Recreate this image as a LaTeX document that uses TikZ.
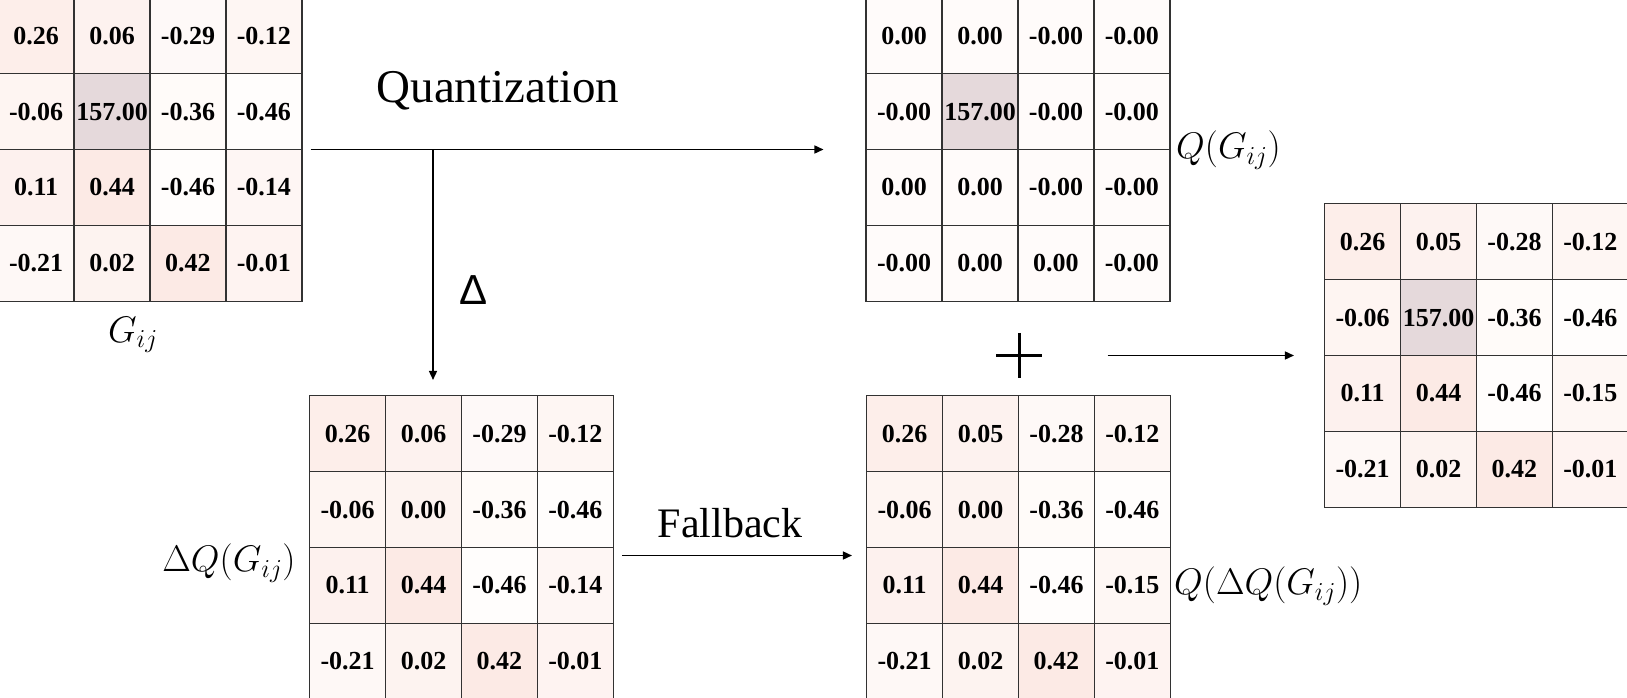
\RequirePackage{fix-cm}
\documentclass[tikz,border=0pt]{standalone}
\usepackage[no-math]{fontspec}
\setmainfont{Liberation Serif}
\newfontfamily\sansf{Liberation Sans}
\usetikzlibrary{matrix,arrows.meta}
\definecolor{hi}{RGB}{252,234,229}
\definecolor{lo}{RGB}{255,253,252}
\definecolor{big}{RGB}{229,217,219}
\definecolor{gridc}{RGB}{50,50,50}
\begin{document}
\begin{tikzpicture}[x=1pt,y=-1pt,
  cell/.style={draw=gridc,line width=1.5pt,minimum width=75.9pt,minimum height=75.9pt,
    inner sep=0pt,outer sep=0pt,font=\fontsize{26}{26}\selectfont\bfseries,fill=lo},
  tint/.style={fill=hi!#1!lo},
  bg/.style={fill=big},
  grid/.style={matrix of nodes,nodes={cell},column sep=-1.5pt,row sep=-1.5pt,
    inner sep=0pt,outer sep=0pt},
  arr/.style={draw=black,line width=1.5pt,-{Triangle[length=9pt,width=8pt]}},
  lab/.style={inner sep=0pt,font=\fontsize{37}{37}\selectfont}]
\useasboundingbox (0,0) rectangle (1627,698);

\matrix (G) [grid] at (150,149.5) {
|[tint=80]| 0.26 & |[tint=58]| 0.06 & |[tint=19]| -0.29 & |[tint=38]| -0.12 \\
|[tint=44]| -0.06 & |[bg]| 157.00 & |[tint=11]| -0.36 & |[tint=0]| -0.46 \\
|[tint=63]| 0.11 & |[tint=100]| 0.44 & |[tint=0]| -0.46 & |[tint=36]| -0.14 \\
|[tint=28]| -0.21 & |[tint=53]| 0.02 & |[tint=98]| 0.42 & |[tint=50]| -0.01 \\
};

\matrix (QG) [grid] at (1018,149.5) {
|[tint=8]| 0.00 & |[tint=8]| 0.00 & |[tint=8]| -0.00 & |[tint=8]| -0.00 \\
|[tint=8]| -0.00 & |[bg]| 157.00 & |[tint=8]| -0.00 & |[tint=8]| -0.00 \\
|[tint=8]| 0.00 & |[tint=8]| 0.00 & |[tint=8]| -0.00 & |[tint=8]| -0.00 \\
|[tint=8]| -0.00 & |[tint=8]| 0.00 & |[tint=8]| 0.00 & |[tint=8]| -0.00 \\
};

\matrix (DQ) [grid] at (461.5,547.5) {
|[tint=80]| 0.26 & |[tint=58]| 0.06 & |[tint=19]| -0.29 & |[tint=38]| -0.12 \\
|[tint=44]| -0.06 & |[tint=51]| 0.00 & |[tint=11]| -0.36 & |[tint=0]| -0.46 \\
|[tint=63]| 0.11 & |[tint=100]| 0.44 & |[tint=0]| -0.46 & |[tint=36]| -0.14 \\
|[tint=28]| -0.21 & |[tint=53]| 0.02 & |[tint=98]| 0.42 & |[tint=50]| -0.01 \\
};

\matrix (QDQ) [grid] at (1018.5,547.5) {
|[tint=80]| 0.26 & |[tint=57]| 0.05 & |[tint=20]| -0.28 & |[tint=38]| -0.12 \\
|[tint=44]| -0.06 & |[tint=51]| 0.00 & |[tint=11]| -0.36 & |[tint=0]| -0.46 \\
|[tint=63]| 0.11 & |[tint=100]| 0.44 & |[tint=0]| -0.46 & |[tint=34]| -0.15 \\
|[tint=28]| -0.21 & |[tint=53]| 0.02 & |[tint=98]| 0.42 & |[tint=50]| -0.01 \\
};

\matrix (R) [grid] at (1476.5,355.5) {
|[tint=80]| 0.26 & |[tint=57]| 0.05 & |[tint=20]| -0.28 & |[tint=38]| -0.12 \\
|[tint=44]| -0.06 & |[bg]| 157.00 & |[tint=11]| -0.36 & |[tint=0]| -0.46 \\
|[tint=63]| 0.11 & |[tint=100]| 0.44 & |[tint=0]| -0.46 & |[tint=34]| -0.15 \\
|[tint=28]| -0.21 & |[tint=53]| 0.02 & |[tint=98]| 0.42 & |[tint=50]| -0.01 \\
};

% labels
\node[lab] (lG) at (133,335) {$G_{ij}$};
\node[lab,anchor=west] (lQG) at (1176,150) {$Q(G_{ij})$};
\node[lab] (lDQ) at (229,563) {$\Delta Q(G_{ij})$};
\node[lab,anchor=west] (lQDQ) at (1174,586) {$Q(\Delta Q(G_{ij}))$};
\node[inner sep=0pt,font=\fontsize{47}{47}\selectfont] (tq) at (498,91) {Quantization};
\node[inner sep=0pt,font=\fontsize{42}{42}\selectfont] (tf) at (730,523) {Fallback};
\node[inner sep=0pt,font=\sansf\fontsize{42}{42}\selectfont] (td) at (474,290) {Δ};

% plus sign
\node[minimum size=45pt,inner sep=0pt] (plus) at (1019,355.5) {};
\draw[line width=3pt] (plus.west) -- (plus.east) (plus.north) -- (plus.south);

% connectors
\draw[arr] ([xshift=8pt]G.east) -- ([xshift=-42pt]QG.west);
\coordinate (br) at (433,149.5);
\path (br |- DQ.north) ++(0,-15) coordinate (dtip);
\draw[arr] (br) -- (dtip);
\draw[arr] ([xshift=8pt,yshift=-8pt]DQ.east) -- ([xshift=-14pt,yshift=-8pt]QDQ.west);
\draw[arr] ([xshift=66pt]plus.east) -- ([xshift=-30pt]R.west);
\end{tikzpicture}
\end{document}
